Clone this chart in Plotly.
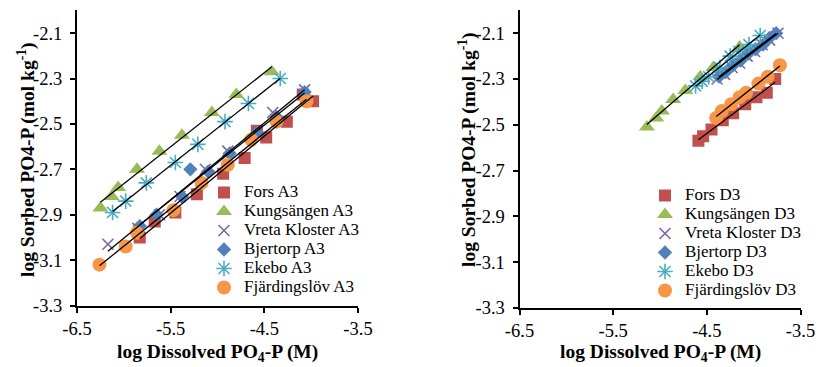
import numpy as np
import plotly.graph_objects as go

W, H = 819, 367

# ---------------- data (A3, left panel) ----------------
fors_a3_x = [-5.83, -5.67, -5.45, -5.22, -4.94, -4.71, -4.58, -4.48, -4.26, -4.09, -3.98]
fors_a3_y = [-3.00, -2.93, -2.89, -2.81, -2.72, -2.65, -2.53, -2.56, -2.49, -2.37, -2.40]
kung_a3_x = [-6.25, -6.13, -6.06, -5.86, -5.62, -5.38, -5.06, -4.80, -4.42]
kung_a3_y = [-2.87, -2.82, -2.78, -2.70, -2.62, -2.55, -2.45, -2.37, -2.27]
vreta_a3_x = [-6.17, -5.85, -5.62, -5.40, -5.13, -4.89, -4.58, -4.41, -4.07]
vreta_a3_y = [-3.03, -2.96, -2.90, -2.82, -2.70, -2.62, -2.53, -2.45, -2.35]
bjert_a3_x = [-5.83, -5.65, -5.38, -5.29, -5.10, -4.87, -4.58, -4.37, -4.07]
bjert_a3_y = [-2.95, -2.90, -2.82, -2.70, -2.71, -2.63, -2.54, -2.47, -2.36]
ekebo_a3_x = [-6.12, -5.98, -5.76, -5.45, -5.21, -4.92, -4.67, -4.33]
ekebo_a3_y = [-2.89, -2.84, -2.76, -2.67, -2.59, -2.49, -2.41, -2.30]
fjard_a3_x = [-6.26, -5.98, -5.86, -5.47, -5.17, -4.89, -4.64, -4.37, -4.05]
fjard_a3_y = [-3.12, -3.04, -2.98, -2.88, -2.76, -2.68, -2.57, -2.49, -2.40]

# ---------------- data (D3, right panel) ----------------
fors_d3_x = [-4.59, -4.54, -4.45, -4.33, -4.22, -4.09, -3.97, -3.86, -3.77]
fors_d3_y = [-2.57, -2.55, -2.52, -2.48, -2.45, -2.41, -2.38, -2.36, -2.30]
kung_d3_x = [-5.14, -5.04, -4.98, -4.86, -4.73, -4.57, -4.43, -4.15]
kung_d3_y = [-2.51, -2.47, -2.44, -2.39, -2.35, -2.29, -2.25, -2.16]
vreta_d3_x = [-4.39, -4.31, -4.23, -4.15, -4.07, -3.99, -3.91, -3.83, -3.74]
vreta_d3_y = [-2.30, -2.28, -2.25, -2.23, -2.20, -2.18, -2.15, -2.13, -2.10]
bjert_d3_x = [-4.37, -4.30, -4.22, -4.14, -4.06, -3.98, -3.90, -3.83, -3.76]
bjert_d3_y = [-2.29, -2.27, -2.24, -2.22, -2.19, -2.17, -2.15, -2.12, -2.10]
ekebo_d3_x = [-4.62, -4.55, -4.48, -4.36, -4.25, -4.16, -4.05, -3.93]
ekebo_d3_y = [-2.33, -2.31, -2.29, -2.25, -2.20, -2.18, -2.15, -2.11]
fjard_d3_x = [-4.40, -4.34, -4.24, -4.15, -4.08, -3.95, -3.85, -3.72]
fjard_d3_y = [-2.47, -2.44, -2.41, -2.38, -2.36, -2.32, -2.29, -2.24]

x_ticks = [-6.5, -5.5, -4.5, -3.5]
x_ticktext = ["-6.5", "-5.5", "-4.5", "-3.5"]
y_ticks = [-3.3, -3.1, -2.9, -2.7, -2.5, -2.3, -2.1]
y_ticktext = ["-3.3", "-3.1", "-2.9", "-2.7", "-2.5", "-2.3", "-2.1"]

site_names = ["Fors", "Kungsängen", "Vreta Kloster", "Bjertorp", "Ekebo", "Fjärdingslöv"]

# ---------------- styles ----------------
FONT = "Liberation Serif"
colors = ["#C0504D", "#9BBB59", "#8064A2", "#4F81BD", "#4BACC6", "#F79646"]
symbols = ["square", "triangle-up", "x-thin-open", "diamond", "asterisk-open", "circle"]
sizes = [12, 14, 11, 11, 13, 14]

left_sets = [(fors_a3_x, fors_a3_y), (kung_a3_x, kung_a3_y), (vreta_a3_x, vreta_a3_y),
             (bjert_a3_x, bjert_a3_y), (ekebo_a3_x, ekebo_a3_y), (fjard_a3_x, fjard_a3_y)]
right_sets = [(fors_d3_x, fors_d3_y), (kung_d3_x, kung_d3_y), (vreta_d3_x, vreta_d3_y),
              (bjert_d3_x, bjert_d3_y), (ekebo_d3_x, ekebo_d3_y), (fjard_d3_x, fjard_d3_y)]

fig = go.Figure()


def add_panel(sets, suffix, xa, ya, legend_id):
    for i, (xs, ys) in enumerate(sets):
        sym = symbols[i]
        line_only = sym.endswith("-open")
        marker = dict(symbol=sym, size=sizes[i], color=colors[i],
                      line=dict(color=colors[i], width=1.6 if line_only else 0))
        fig.add_trace(go.Scatter(
            x=xs, y=ys, mode="markers", marker=marker,
            name='<span style="font-size:17px">%s %s</span>' % (site_names[i], suffix),
            xaxis=xa, yaxis=ya, legend=legend_id, showlegend=True))
    # linear trendlines on top
    for xs, ys in sets:
        k, b = np.polyfit(xs, ys, 1)
        xe = np.array([min(xs), max(xs)])
        fig.add_trace(go.Scatter(x=xe, y=k * xe + b, mode="lines",
                                 line=dict(color="black", width=1.3),
                                 xaxis=xa, yaxis=ya, showlegend=False, hoverinfo="skip"))


add_panel(left_sets, "A3", "x", "y", "legend")
add_panel(right_sets, "D3", "x2", "y2", "legend2")


def px_x(p):
    return p / W


def px_y(p):
    return 1 - p / H


axis_common = dict(showline=True, linewidth=2, linecolor="black", showgrid=False, zeroline=False,
                   ticks="outside", ticklen=5, tickwidth=1.5, tickcolor="black", automargin=False,
                   tickfont=dict(family=FONT, size=18.5, color="black"), mirror=False)

fig.update_layout(
    template="none",
    width=W, height=H, margin=dict(l=0, r=0, t=0, b=0, pad=0), autosize=False,
    paper_bgcolor="white", plot_bgcolor="white",
    xaxis=dict(domain=[px_x(77), px_x(358)], range=[-6.5, -3.5], tickvals=x_ticks,
               ticktext=x_ticktext, anchor="y", **axis_common),
    yaxis=dict(domain=[px_y(305.5), px_y(10.4)], range=[-3.3, -2.0], tickvals=y_ticks,
               ticktext=y_ticktext, anchor="x", ticklabelstandoff=4, **axis_common),
    xaxis2=dict(domain=[px_x(519.5), px_x(800.5)], range=[-6.5, -3.5], tickvals=x_ticks,
                ticktext=x_ticktext, anchor="y2", **axis_common),
    yaxis2=dict(domain=[px_y(308), px_y(10.3)], range=[-3.3, -2.0], tickvals=y_ticks,
                ticktext=y_ticktext, anchor="x2", ticklabelstandoff=4, **axis_common),
    legend=dict(x=px_x(204), y=px_y(178), xanchor="left", yanchor="top",
                bgcolor="rgba(0,0,0,0)", font=dict(family=FONT, size=12, color="black"),
                tracegroupgap=0),
    legend2=dict(x=px_x(645), y=px_y(181), xanchor="left", yanchor="top",
                 bgcolor="rgba(0,0,0,0)", font=dict(family=FONT, size=12, color="black"),
                 tracegroupgap=0),
    showlegend=True,
)

title_font = dict(family=FONT, size=19.5, color="black", weight="bold")
annotations = [
    dict(text="log Dissolved PO<sub>4</sub>-P (M)", x=px_x(217.5), y=px_y(353),
         xref="paper", yref="paper", showarrow=False, xanchor="center", yanchor="middle",
         font=title_font),
    dict(text="log Dissolved PO<sub>4</sub>-P (M)", x=px_x(660), y=px_y(353),
         xref="paper", yref="paper", showarrow=False, xanchor="center", yanchor="middle",
         font=title_font),
    dict(text="log Sorbed PO4-P (mol kg<sup>-1</sup>)", x=px_x(26), y=px_y(160),
         xref="paper", yref="paper", showarrow=False, xanchor="center", yanchor="middle",
         textangle=-90, font=title_font),
    dict(text="log Sorbed PO4-P (mol kg<sup>-1</sup>)", x=px_x(467), y=px_y(150),
         xref="paper", yref="paper", showarrow=False, xanchor="center", yanchor="middle",
         textangle=-90, font=title_font),
]
fig.update_layout(annotations=annotations)

fig.write_html("out.html", config={"displayModeBar": False},
               post_script="document.body.style.margin='0';document.body.style.padding='0';")
